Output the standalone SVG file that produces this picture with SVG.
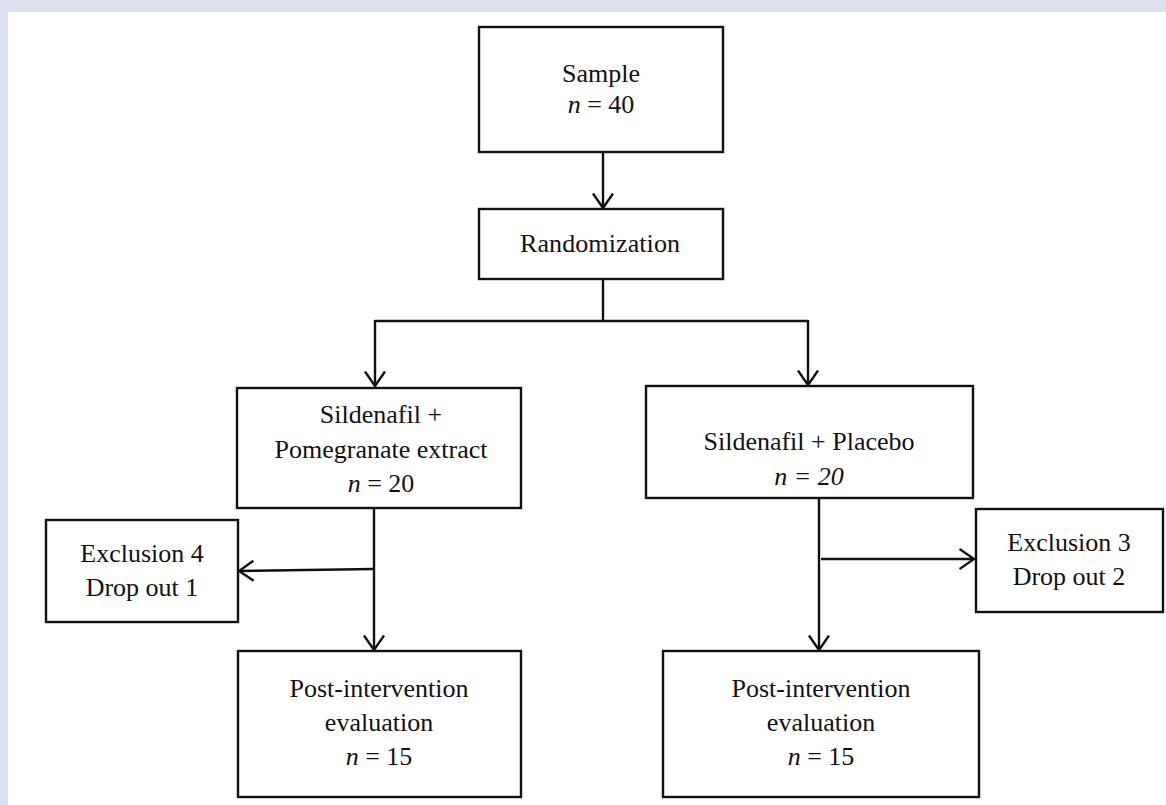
<svg xmlns="http://www.w3.org/2000/svg" width="1166" height="805" viewBox="0 0 1166 805">
<defs>
<style>
.box{fill:#fff;stroke:#111;stroke-width:2.4}
.ln{fill:none;stroke:#111;stroke-width:2.4}
text{font-family:"Liberation Serif","Times New Roman",serif;font-size:26px;fill:#111;text-anchor:middle}
.it{font-style:italic}
</style>
<marker id="ah" viewBox="0 0 17 22" refX="15.5" refY="11" markerWidth="17" markerHeight="22" markerUnits="userSpaceOnUse" orient="auto">
<path d="M1,1 L15.5,11 L1,21" fill="none" stroke="#111" stroke-width="2.4"/>
</marker>
</defs>
<rect x="0" y="0" width="1166" height="805" fill="#dde0ee"/>
<rect x="8" y="12" width="1158" height="793" fill="#fff"/>
<g id="connectors">
<line class="ln" x1="603" y1="152" x2="603" y2="208" marker-end="url(#ah)"/>
<polyline class="ln" points="603,280 603,321"/>
<polyline class="ln" points="375,321 808,321"/>
<line class="ln" x1="375" y1="320" x2="375" y2="386" marker-end="url(#ah)"/>
<line class="ln" x1="808" y1="320" x2="808" y2="385" marker-end="url(#ah)"/>
<line class="ln" x1="374" y1="508" x2="374" y2="650" marker-end="url(#ah)"/>
<line class="ln" x1="374" y1="569" x2="239" y2="571" marker-end="url(#ah)"/>
<line class="ln" x1="819" y1="498" x2="819" y2="650" marker-end="url(#ah)"/>
<line class="ln" x1="821" y1="559" x2="974" y2="559" marker-end="url(#ah)"/>
</g>
<g id="sample">
<rect class="box" x="479" y="27" width="244" height="125"/>
<text x="601" y="82">Sample</text>
<text x="601" y="113"><tspan class="it">n</tspan> = 40</text>
</g>
<g id="randomization">
<rect class="box" x="479" y="209" width="244" height="70"/>
<text x="600" y="252" textLength="160">Randomization</text>
</g>
<g id="pomegranate">
<rect class="box" x="237" y="388" width="284" height="120"/>
<text x="381" y="423">Sildenafil +</text>
<text x="381" y="458">Pomegranate extract</text>
<text x="381" y="492"><tspan class="it">n</tspan> = 20</text>
</g>
<g id="placebo">
<rect class="box" x="646" y="386" width="327" height="112"/>
<text x="809" y="450">Sildenafil + Placebo</text>
<text x="809" y="485" class="it">n = 20</text>
</g>
<g id="exclusion4">
<rect class="box" x="46" y="520" width="192" height="102"/>
<text x="142" y="562">Exclusion 4</text>
<text x="142" y="596">Drop out 1</text>
</g>
<g id="exclusion3">
<rect class="box" x="976" y="509" width="187" height="103"/>
<text x="1069" y="551">Exclusion 3</text>
<text x="1069" y="585">Drop out 2</text>
</g>
<g id="post-left">
<rect class="box" x="238" y="651" width="283" height="146"/>
<text x="379" y="697">Post-intervention</text>
<text x="379" y="731">evaluation</text>
<text x="379" y="765"><tspan class="it">n</tspan> = 15</text>
</g>
<g id="post-right">
<rect class="box" x="663" y="651" width="316" height="146"/>
<text x="821" y="697">Post-intervention</text>
<text x="821" y="731">evaluation</text>
<text x="821" y="765"><tspan class="it">n</tspan> = 15</text>
</g>
</svg>
